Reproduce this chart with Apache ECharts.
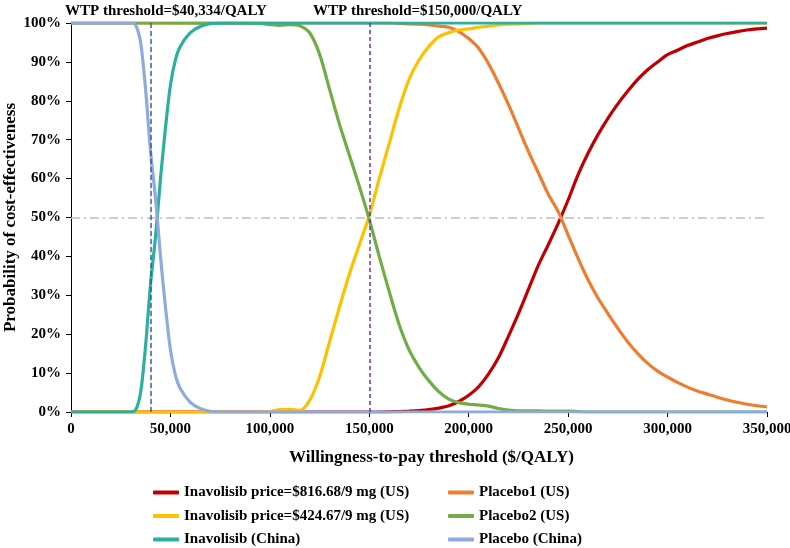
<!DOCTYPE html>
<html>
<head>
<meta charset="utf-8">
<script src="https://cdn.jsdelivr.net/npm/echarts@6/dist/echarts.min.js"></script>
<style>
  html, body { margin: 0; padding: 0; background: #fff; }
  #chart { width: 790px; height: 548px; }
</style>
</head>
<body>
<div id="chart"></div>
<script>
// willingness-to-pay grid (China curves)
const wtpChina = [0, 25000, 30000, 32500, 35000, 37500, 40000, 42500, 45000, 47500, 50000, 52500, 55000, 60000, 65000, 70000, 75000, 100000, 150000, 200000, 250000, 300000, 350000]
const inavChina = [0, 0, 0, 0.5, 5, 17, 33, 45, 60, 73, 84, 90.5, 94, 97.5, 99.1, 99.8, 100, 100, 100, 100, 100, 100, 100]
const placeboChina = [100, 100, 100, 99.5, 95, 83, 67, 55, 40, 27, 16, 9.5, 6, 2.5, 0.9, 0.2, 0, 0, 0, 0, 0, 0, 0]

// willingness-to-pay grid (US curves)
const wtpUS = [0, 50000, 95000, 100000, 105000, 110000, 115000, 120000, 125000, 130000,
  135000, 140000, 145000, 150000, 155000, 160000, 165000, 170000, 175000, 180000,
  185000, 190000, 195000, 200000, 205000, 210000, 215000, 220000, 225000, 230000,
  235000, 240000, 245000, 250000, 255000, 260000, 265000, 270000, 275000, 280000,
  285000, 290000, 295000, 300000, 305000, 310000, 315000, 320000, 325000, 330000,
  335000, 340000, 345000, 350000]
// Inavolisib price=$816.68/9 mg (US)
const inavHigh = [0, 0, 0, 0, 0, 0, 0, 0, 0, 0, 0, 0, 0, 0, 0,
  0.05, 0.1, 0.2, 0.35, 0.6, 1, 1.6, 2.7, 4.3, 6.5, 9.8, 14, 19.5, 25.3, 31.5,
  37.7, 43, 48.5, 54.5, 61, 66.5, 71.3, 75.5, 79.2, 82.5, 85.5, 88, 90, 91.9, 93,
  94.2, 95.1, 96, 96.7, 97.3, 97.8, 98.2, 98.5, 98.7]
// Placebo1 (US)
const placebo1 = [100, 100, 100, 100, 100, 100, 100, 100, 100, 100, 100, 100, 100, 100, 100,
  100, 99.9, 99.8, 99.7, 99.5, 99.2, 98.9, 97.8, 96, 93.5, 89.5, 84.5, 79, 73, 67,
  61.5, 56, 51.5, 45.5, 39.5, 34, 29.3, 25.3, 21.5, 18, 15, 12.5, 10.5, 9, 7.6,
  6.4, 5.4, 4.6, 3.8, 3.1, 2.5, 2, 1.6, 1.3]
// Inavolisib price=$424.67/9 mg (US)
const inavLow = [0, 0, 0, 0.1, 0.6, 0.7, 0.4, 3, 9, 18, 27, 35.5, 43, 50.5, 60,
  69, 78, 85.5, 90.5, 94, 96.5, 97.5, 98.2, 98.5, 98.9, 99.2, 99.5, 99.7, 99.8, 99.9,
  100, 100, 100, 100, 100, 100, 100, 100, 100, 100, 100, 100, 100, 100, 100,
  100, 100, 100, 100, 100, 100, 100, 100, 100]
// Placebo2 (US)
const placebo2 = [100, 100, 99.9, 99.6, 99.4, 99.6, 99.3, 97.5, 92, 83, 74, 66, 58, 49.5, 40,
  31, 22.5, 16, 11.5, 8, 5.2, 3.3, 2.4, 2, 1.8, 1.5, 0.9, 0.5, 0.3, 0.3,
  0.3, 0.2, 0.2, 0.2, 0.1, 0, 0, 0, 0, 0, 0, 0, 0, 0, 0,
  0, 0, 0, 0, 0, 0, 0, 0, 0]

const xTicks = [0, 50000, 100000, 150000, 200000, 250000, 300000, 350000]
const wtpChinaLine = 40334
const wtpUSLine = 150000

const names = [
  'Inavolisib price=$816.68/9 mg (US)',
  'Placebo1 (US)',
  'Inavolisib price=$424.67/9 mg (US)',
  'Placebo2 (US)',
  'Inavolisib (China)',
  'Placebo (China)'
]
const colors = ['#C00000', '#ED7D31', '#FFC000', '#70AD47', '#2BB0A0', '#8FAADC']

const font = 'Liberation Serif'
const pair = (xs, ys) => xs.map((x, i) => [x, ys[i]])

function curve(idx, xs, ys) {
  return {
    name: names[idx],
    type: 'line',
    data: pair(xs, ys),
    smooth: 0.3,
    symbol: 'none',
    lineStyle: { width: 3.2, color: colors[idx] },
    itemStyle: { color: colors[idx] }
  }
}

// 图例 - 两列三行
const legendText = { fontFamily: font, fontWeight: 'bold', fontSize: 15, color: '#000' }
const legendPos = [[153, 485], [448, 485], [153, 508.5], [448, 508.5], [153, 532], [448, 532]]
const legends = names.map((n, i) => ({
  data: [n], left: legendPos[i][0], top: legendPos[i][1], padding: 0,
  itemWidth: 26, itemHeight: 4, icon: 'roundRect', textStyle: legendText
}))

const chart = echarts.init(document.getElementById('chart'))
chart.setOption({
  animation: false,
  backgroundColor: '#fff',
  grid: { left: 71, right: 23, top: 23, bottom: 136, outerBoundsMode: 'none', containLabel: false },
  // 顶部阈值说明
  graphic: [
    { type: 'text', left: 65, top: 4, style: { text: 'WTP threshold=$' + wtpChinaLine.toLocaleString('en-US') + '/QALY', font: 'bold 15px "Liberation Serif"', fill: '#000' } },
    { type: 'text', left: 313, top: 4, style: { text: 'WTP threshold=$' + wtpUSLine.toLocaleString('en-US') + '/QALY', font: 'bold 15px "Liberation Serif"', fill: '#000' } }
  ],
  legend: legends,
  xAxis: {
    type: 'value', min: xTicks[0], max: xTicks[xTicks.length - 1], interval: 50000,
    name: 'Willingness-to-pay threshold ($/QALY)',
    nameLocation: 'middle', nameGap: 37,
    nameTextStyle: { fontFamily: font, fontWeight: 'bold', fontSize: 17, color: '#000', padding: [0, 0, 0, 25] },
    axisLine: { lineStyle: { color: '#000', width: 1 } },
    axisTick: { show: true, length: 5, lineStyle: { color: '#000' } },
    axisLabel: { margin: 10, fontFamily: font, fontWeight: 'bold', fontSize: 15, color: '#000', formatter: v => v.toLocaleString('en-US') },
    splitLine: { show: false }
  },
  yAxis: {
    type: 'value', min: 0, max: 100, interval: 10,
    name: 'Probability of cost-effectiveness',
    nameLocation: 'middle', nameGap: 52, nameMoveOverlap: false,
    nameTextStyle: { fontFamily: font, fontWeight: 'bold', fontSize: 17, color: '#000' },
    axisLine: { show: true, lineStyle: { color: '#000', width: 1 } },
    axisTick: { show: true, length: 5, lineStyle: { color: '#000' } },
    axisLabel: { margin: 10, fontFamily: font, fontWeight: 'bold', fontSize: 15, color: '#000', formatter: '{value}%' },
    splitLine: { show: false }
  },
  series: [
    // 参考线
    {
      type: 'line', data: [], silent: true,
      markLine: {
        silent: true, symbol: ['none', 'none'], label: { show: false },
        data: [
          { yAxis: 50, lineStyle: { color: '#BFBFBF', width: 1.5, type: [9, 4, 2, 4] } },
          { xAxis: wtpChinaLine, lineStyle: { color: '#2E5BB8', width: 1.5, type: [5, 3] } },
          { xAxis: wtpUSLine, lineStyle: { color: '#7030A0', width: 1.5, type: [4, 3] } }
        ]
      }
    },
    curve(0, wtpUS, inavHigh),
    curve(1, wtpUS, placebo1),
    curve(2, wtpUS, inavLow),
    curve(3, wtpUS, placebo2),
    curve(4, wtpChina, inavChina),
    curve(5, wtpChina, placeboChina)
  ]
})
</script>
</body>
</html>
